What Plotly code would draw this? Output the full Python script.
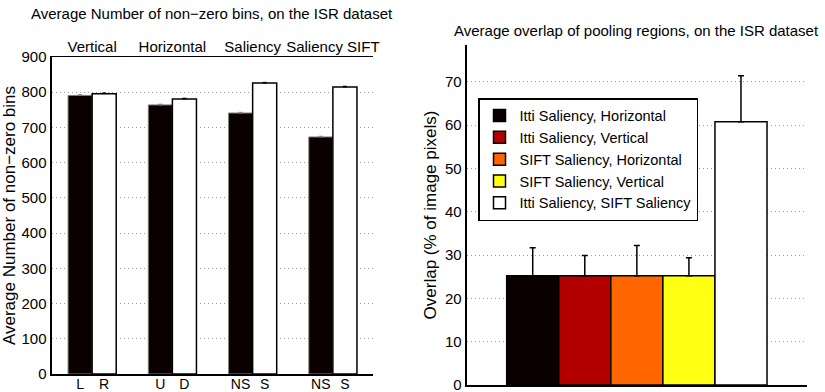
import plotly.graph_objects as go

# ---------------- data ----------------
groups = ["Vertical", "Horizontal", "Saliency", "Saliency SIFT"]
first_labels = ["L", "U", "NS", "NS"]
second_labels = ["R", "D", "S", "S"]
first_vals = [791, 764, 741, 673]
second_vals = [796, 781, 826, 815]
first_err = [2, 2, 2, 2]
second_err = [2, 2, 2, 2]

overlap_names = [
    "Itti Saliency, Horizontal",
    "Itti Saliency, Vertical",
    "SIFT Saliency, Horizontal",
    "SIFT Saliency, Vertical",
    "Itti Saliency, SIFT Saliency",
]
overlap_vals = [25.2, 25.2, 25.2, 25.2, 60.8]
overlap_err = [6.5, 4.7, 7.0, 4.2, 10.6]
overlap_colors = ["#0a0000", "#b30000", "#ff6600", "#ffff14", "#ffffff"]

FONT = "Liberation Sans, Arial, sans-serif"
TXT = "#000000"

fig = go.Figure()

# ---------------- left chart ----------------
gx = list(range(1, len(groups) + 1))
bw = 0.3
fig.add_trace(go.Bar(
    x=gx, y=first_vals, width=bw, offset=-bw,
    marker=dict(color="#0a0000", line=dict(color="#808080", width=1)),
    error_y=dict(type="data", array=first_err, arrayminus=[0] * 4, symmetric=False,
                 color="#808080", thickness=1, width=2),
    xaxis="x", yaxis="y", showlegend=False, hoverinfo="skip",
))
fig.add_trace(go.Bar(
    x=gx, y=second_vals, width=bw, offset=0,
    marker=dict(color="#ffffff", line=dict(color="#000000", width=1.5)),
    error_y=dict(type="data", array=second_err, arrayminus=[0] * 4, symmetric=False,
                 color="#000000", thickness=1, width=2),
    xaxis="x", yaxis="y", showlegend=False, hoverinfo="skip",
))
# empty trace that only makes the top (group-name) axis exist
fig.add_trace(go.Scatter(
    x=gx, y=[None] * len(gx), mode="markers", xaxis="x3", yaxis="y",
    showlegend=False, hoverinfo="skip",
))

tickpos = []
ticktxt = []
for g, a, b in zip(gx, first_labels, second_labels):
    tickpos += [g - bw / 2, g + bw / 2]
    ticktxt += [a, b]

# ---------------- right chart ----------------
n = len(overlap_names)
w = 0.153
start = -w * n / 2
for i, (name, v, e, c) in enumerate(zip(overlap_names, overlap_vals, overlap_err, overlap_colors)):
    fig.add_trace(go.Bar(
        x=[1], y=[v], width=w, offset=start + i * w, name=name,
        marker=dict(color=c, line=dict(color="#000000", width=1.5)),
        error_y=dict(type="data", array=[e], arrayminus=[0], symmetric=False,
                     color="#000000", thickness=1.5, width=3),
        xaxis="x2", yaxis="y2", showlegend=True, hoverinfo="skip",
    ))

grid = dict(showgrid=True, gridcolor="#9a9a9a", griddash="1px,3px", gridwidth=1)

fig.update_layout(
    width=825, height=392,
    margin=dict(l=0, r=0, t=0, b=0, autoexpand=False),
    paper_bgcolor="white", plot_bgcolor="white",
    font=dict(family=FONT, size=15, color=TXT),
    barmode="overlay",
    hovermode=False,
    dragmode=False,
    xaxis=dict(domain=[52 / 825, 373 / 825], range=[0.5, 4.5],
               tickvals=tickpos, ticktext=ticktxt, ticks="",
               showline=True, linecolor="black", linewidth=1.5,
               showgrid=False, zeroline=False, anchor="y", automargin=False,
               ticklabelstandoff=-3, ticklabeloverflow="allow", fixedrange=True,
               showspikes=False, tickfont=dict(size=14, color=TXT)),
    xaxis3=dict(domain=[52 / 825, 373 / 825], range=[0.5, 4.5],
                overlaying="x", side="top", anchor="y", automargin=False,
                tickvals=gx, ticktext=groups, ticks="", ticklabelstandoff=-2,
                showline=True, linecolor="black", linewidth=1.5, fixedrange=True,
                showgrid=False, zeroline=False, tickfont=dict(size=15, color=TXT)),
    yaxis=dict(domain=[(392 - 374) / 392, (392 - 57) / 392], range=[0, 900],
               dtick=100, ticks="", showline=True, linecolor="black", linewidth=2.5,
               zeroline=False, anchor="x", automargin=False, fixedrange=True,
               tickfont=dict(size=15, color=TXT), ticklabeloverflow="allow",
               title=dict(text="Average Number of non\u2212zero bins", standoff=4,
                          font=dict(size=17, color=TXT)),
               **grid),
    xaxis2=dict(domain=[466.7 / 825, 807 / 825], range=[0.5, 1.5],
                showticklabels=False, ticks="", showline=True, linecolor="black",
                linewidth=2, showgrid=False, zeroline=False, anchor="y2",
                automargin=False, fixedrange=True),
    yaxis2=dict(domain=[(392 - 385) / 392, (392 - 45) / 392], range=[0, 78.5],
                tickvals=[0, 10, 20, 30, 40, 50, 60, 70], ticks="",
                showline=True, linecolor="black", linewidth=2, fixedrange=True,
                zeroline=False, anchor="x2", automargin=False,
                tickfont=dict(size=15, color=TXT), ticklabeloverflow="allow",
                title=dict(text="Overlap (% of image pixels)", standoff=4,
                           font=dict(size=17, color=TXT)),
                **grid),
    legend=dict(x=478 / 825, y=(392 - 98) / 392, xanchor="left", yanchor="top",
                bgcolor="white", bordercolor="black", borderwidth=1.5,
                font=dict(size=14.5, color=TXT), traceorder="normal"),
    annotations=[
        dict(text="Average Number of non\u2212zero bins, on the ISR dataset",
             x=212 / 825, y=(392 - 13) / 392, xref="paper", yref="paper",
             showarrow=False, font=dict(size=15, color=TXT),
             xanchor="center", yanchor="middle"),
        dict(text="Average overlap of pooling regions, on the ISR dataset",
             x=636 / 825, y=(392 - 30) / 392, xref="paper", yref="paper",
             showarrow=False, font=dict(size=15, color=TXT),
             xanchor="center", yanchor="middle"),
    ],
)

fig.write_html(
    "out.html",
    config={"displayModeBar": False, "staticPlot": True},
    post_script="document.documentElement.style.margin='0';"
                "document.body.style.margin='0';"
                "document.body.style.overflow='hidden';",
)
